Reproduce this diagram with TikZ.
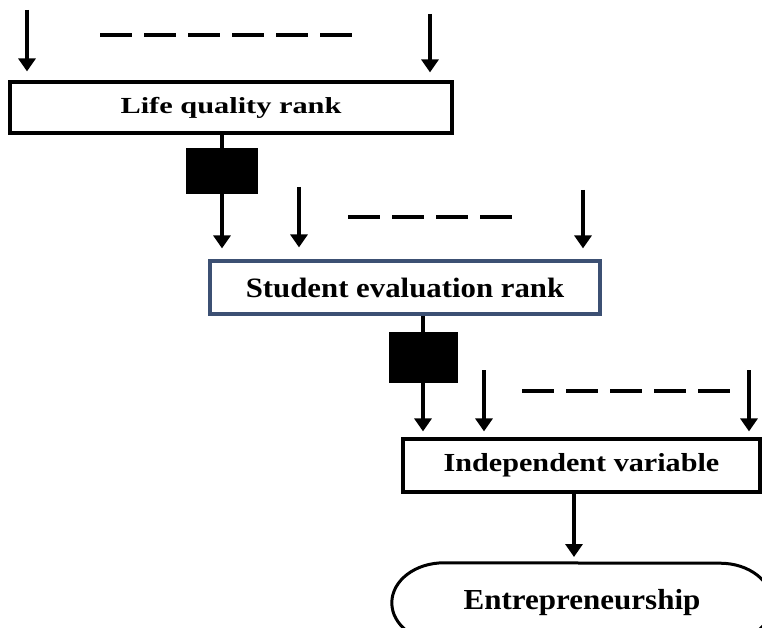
\documentclass[tikz,border=0pt]{standalone}
\usepackage{fontspec}
\usepackage{graphicx}
\setmainfont{Liberation Serif}
\usetikzlibrary{arrows.meta,calc}
\newcommand{\lbl}[3]{{\fontsize{#1}{#1}\selectfont\bfseries\scalebox{#2}[1]{#3}}}
\definecolor{slateb}{RGB}{60,80,115}
\tikzset{
  box/.style={draw, line width=3.2pt, inner sep=0pt, fill=white},
  blk/.style={fill=black, draw=none, inner sep=0pt},
  arr/.style={line width=3.4pt, -{Triangle[width=17pt,length=13pt]}},
  conn/.style={line width=3.4pt},
  dsh/.style={line width=3.4pt, dash pattern=on 32pt off 12pt},
}
\begin{document}
\begin{tikzpicture}[x=1pt,y=-1pt]
\useasboundingbox (0,0) rectangle (762,628);
\clip (0,0) rectangle (762,628);
% boxes
\node[box, minimum width=442pt, minimum height=51pt] (b1) at (231,107.5) {\lbl{23}{1.32}{Life quality rank}};
\node[box, draw=slateb, minimum width=390pt, minimum height=53pt] (b2) at (405,287.5) {\lbl{28}{1.1}{Student evaluation rank}};
\node[box, minimum width=357pt, minimum height=53pt] (b3) at (581.5,465.5) {\lbl{26}{1.16}{Independent variable}};
\node[inner sep=0pt, minimum width=380pt, minimum height=80pt] (ent) at (582,603) {\lbl{29}{1.07}{Entrepreneurship}};
\draw[line width=3pt] ([xshift=52pt]ent.north west) arc[start angle=90,end angle=270,x radius=52pt,y radius=40pt]
  -- ([xshift=-52pt]ent.south east) arc[start angle=-90,end angle=90,x radius=52pt,y radius=40pt] -- cycle;
% black blocks
\node[blk, minimum width=72pt, minimum height=46pt] (k1) at (222,171) {};
\node[blk, minimum width=69pt, minimum height=51pt] (k2) at (423,357.5) {};
% free arrow starts
\coordinate (s1) at (27,10);
\coordinate (s2) at (430,14);
\coordinate (s3) at (299,187);
\coordinate (s4) at (583,190);
\coordinate (s5) at (484,370);
\coordinate (s6) at (749,370);
% dashed lines
\coordinate (d1a) at (100,35); \coordinate (d1b) at (360,35);
\coordinate (d2a) at (348,217); \coordinate (d2b) at (520,217);
\coordinate (d3a) at (522,391); \coordinate (d3b) at (735,391);
\draw[dsh] (d1a) -- (d1b);
\draw[dsh] (d2a) -- (d2b);
\draw[dsh] (d3a) -- (d3b);
% arrows into box 1
\draw[arr, shorten >=9pt] (s1) -- (s1 |- b1.north);
\draw[arr, shorten >=8pt] (s2) -- (s2 |- b1.north);
% box1 -> block1 -> box2
\draw[conn] (b1.south -| k1) -- (k1.north);
\draw[arr, shorten >=11pt] (k1.south) -- (k1 |- b2.north);
\draw[arr, shorten >=12pt] (s3) -- (s3 |- b2.north);
\draw[arr, shorten >=11pt] (s4) -- (s4 |- b2.north);
% box2 -> block2 -> box3
\draw[conn] (b2.south -| k2) -- (k2.north);
\draw[arr, shorten >=6pt] (k2.south) -- (k2 |- b3.north);
\draw[arr, shorten >=6pt] (s5) -- (s5 |- b3.north);
\draw[arr, shorten >=6pt] (s6) -- (s6 |- b3.north);
% box3 -> entrepreneurship
\draw[arr, shorten >=6pt] (b3.south -| 574,0) -- (574,563);
\end{tikzpicture}
\end{document}
